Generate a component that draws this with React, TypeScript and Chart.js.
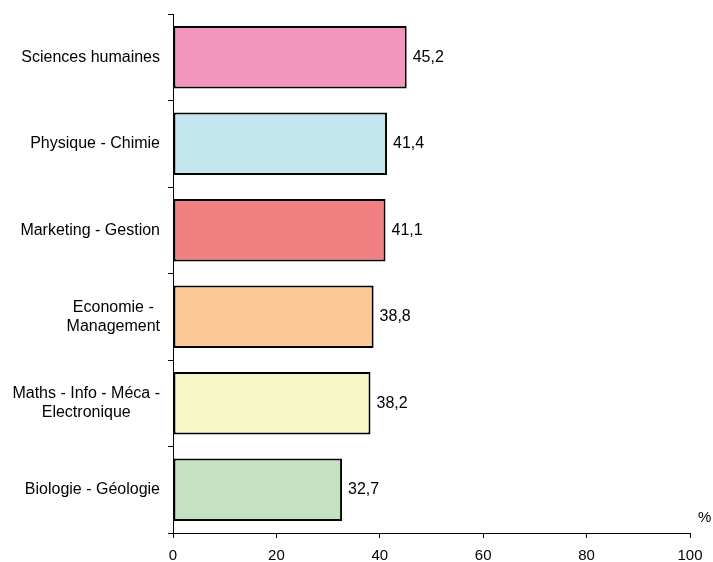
import React, { useEffect, useRef } from "react";
import { Chart, registerables } from "chart.js";

Chart.register(...registerables);

const categories: string[][] = [
  ["Sciences humaines"],
  ["Physique - Chimie"],
  ["Marketing - Gestion"],
  ["Economie -", "Management"],
  ["Maths - Info - Méca -", "Electronique"],
  ["Biologie - Géologie"],
];
const values: number[] = [45.2, 41.4, 41.1, 38.8, 38.2, 32.7];
const barColors: string[] = ["#F495BE", "#C3E6EF", "#F28083", "#FDC898", "#F8F7C7", "#C4E1C1"];
const xTicks: number[] = [0, 20, 40, 60, 80, 100];
const unitLabel = "%";

const FONT = "'Liberation Sans', Arial, sans-serif";
const FS = 16;
const TICK_FS = 15;

const fmt = (v: number) => v.toFixed(1).replace(".", ",");

const labelsPlugin = {
  id: "customLabels",
  afterDraw(chart: any) {
    const ctx = chart.ctx;
    const yScale = chart.scales.y;
    const area = chart.chartArea;
    ctx.save();
    ctx.font = `${FS}px ${FONT}`;
    ctx.fillStyle = "#000";
    ctx.textBaseline = "middle";
    // category labels: block right aligned, lines centered
    const rightEdge = yScale.right - 13;
    const lh = 19;
    categories.forEach((lines, i) => {
      const cy = yScale.getPixelForValue(i);
      const maxW = Math.max(...lines.map((l) => ctx.measureText(l).width));
      const cx = rightEdge - maxW / 2;
      ctx.textAlign = "center";
      lines.forEach((l, j) => {
        ctx.fillText(l, cx, cy + (j - (lines.length - 1) / 2) * lh);
      });
    });
    // value labels
    const meta = chart.getDatasetMeta(0);
    ctx.textAlign = "left";
    meta.data.forEach((bar: any, i: number) => {
      ctx.fillText(fmt(values[i]), bar.x + 6, bar.y);
    });
    // unit
    ctx.font = `${TICK_FS}px ${FONT}`;
    ctx.fillText(unitLabel, area.right + 8, area.bottom - 15);
    ctx.restore();
  },
};

export default function App() {
  const ref = useRef<HTMLCanvasElement | null>(null);
  useEffect(() => {
    if (!ref.current) return;
    const chart = new Chart(ref.current, {
      type: "bar",
      data: {
        labels: categories.map((c) => c.join(" ")),
        datasets: [
          {
            data: values,
            backgroundColor: barColors,
            borderColor: "#000",
            borderWidth: 2,
            borderSkipped: false,
            categoryPercentage: 0.72,
            barPercentage: 1,
          },
        ],
      },
      options: {
        indexAxis: "y",
        responsive: false,
        animation: false,
        layout: { padding: { top: 14, right: 23, left: 0, bottom: 0 } },
        plugins: {
          legend: { display: false },
          tooltip: { enabled: false },
        },
        scales: {
          x: {
            min: 0,
            max: 100,
            afterBuildTicks: (scale: any) => {
              scale.ticks = xTicks.map((v) => ({ value: v }));
            },
            afterFit: (scale: any) => {
              scale.height = 29;
            },
            ticks: {
              color: "#000",
              font: { family: FONT, size: TICK_FS },
              padding: 9,
              maxRotation: 0,
            },
            grid: {
              drawOnChartArea: false,
              drawTicks: true,
              tickLength: 5,
              color: "#000",
              lineWidth: 1,
            },
            border: { display: true, color: "#000", width: 1 },
          },
          y: {
            afterFit: (scale: any) => {
              scale.width = 173;
            },
            ticks: { display: false },
            grid: {
              drawOnChartArea: false,
              drawTicks: true,
              tickLength: 5,
              color: "#000",
              lineWidth: 1,
              offset: true,
            },
            border: { display: true, color: "#000", width: 1 },
          },
        },
      },
      plugins: [labelsPlugin],
    });
    return () => chart.destroy();
  }, []);
  return (
    <div style={{ position: "fixed", left: 0, top: 0, width: 713, height: 562, background: "#fff" }}>
      <canvas ref={ref} width={713} height={562} />
    </div>
  );
}
